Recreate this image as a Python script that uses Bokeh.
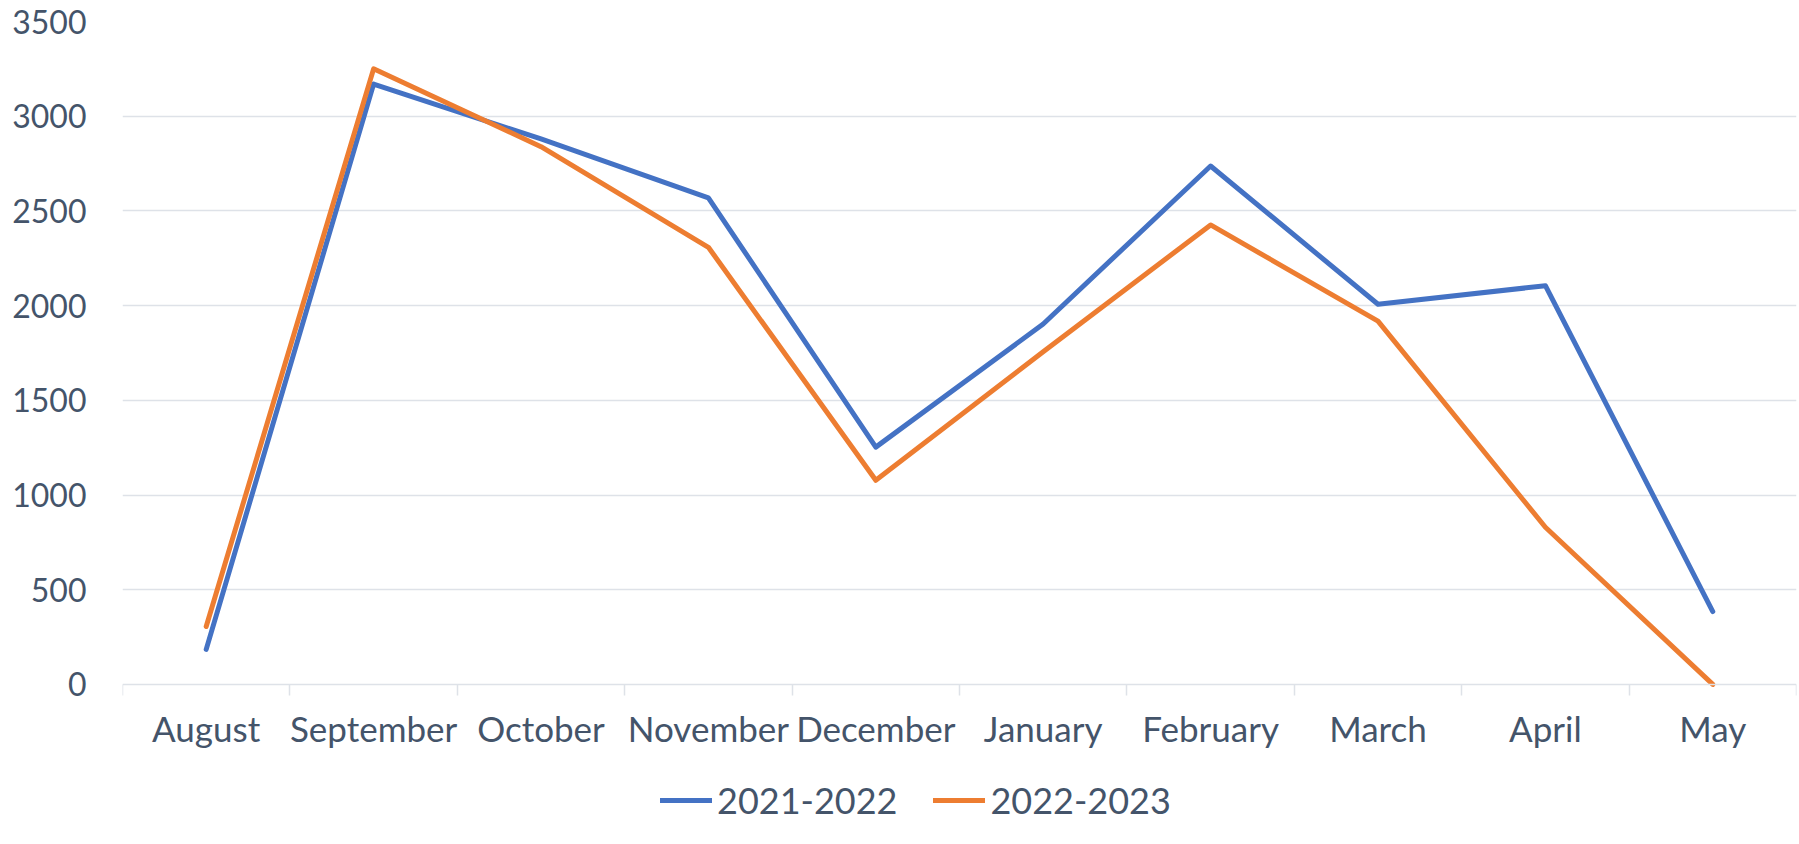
from bokeh.plotting import figure
from bokeh.models import Range1d, FixedTicker, Legend, LegendItem
from bokeh.embed import file_html
from bokeh.resources import INLINE

months = ["August", "September", "October", "November", "December",
          "January", "February", "March", "April", "May"]
series_2021_2022 = [185, 3170, 2880, 2569, 1253, 1903, 2737, 2007, 2105, 385]
series_2022_2023 = [306, 3250, 2839, 2308, 1078, 1756, 2426, 1918, 830, 0]
y_ticks = [0, 500, 1000, 1500, 2000, 2500, 3000, 3500]

TEXT = "#44546A"
GRID = "#DEE2E8"
BLUE = "#4472C4"
ORANGE = "#ED7D31"
FONT = "Lato"

x_pos = [i + 0.5 for i in range(len(months))]

# frame runs to the bottom of the figure so that axis labels and legend sit inside it
p = figure(width=1799, height=844, output_backend="svg", toolbar_location=None,
           x_range=Range1d(0, len(months)), y_range=Range1d(-845, 3500),
           min_border_left=122, min_border_right=3, min_border_top=21,
           min_border_bottom=0)
p.outline_line_color = None
p.background_fill_color = "white"
p.border_fill_color = "white"

r1 = p.line(x_pos, series_2021_2022, line_color=BLUE, line_width=5,
            line_join="round", line_cap="round")
r2 = p.line(x_pos, series_2022_2023, line_color=ORANGE, line_width=5,
            line_join="round", line_cap="round")

# x axis, fixed at y = 0
xa = p.xaxis[0]
xa.fixed_location = 0
xa.ticker = FixedTicker(ticks=x_pos, minor_ticks=list(range(len(months) + 1)))
xa.major_label_overrides = {x: m for x, m in zip(x_pos, months)}
xa.major_tick_line_color = None
xa.major_tick_out = 0
xa.major_tick_in = 0
xa.minor_tick_out = 11
xa.minor_tick_in = 0
xa.minor_tick_line_color = GRID
xa.minor_tick_line_width = 1.5
xa.axis_line_color = GRID
xa.axis_line_width = 1.5
xa.major_label_text_font = FONT
xa.major_label_text_font_size = "35px"
xa.major_label_text_color = TEXT
xa.major_label_standoff = 12

# y axis
ya = p.yaxis[0]
ya.ticker = FixedTicker(ticks=y_ticks)
ya.axis_line_color = None
ya.major_tick_line_color = None
ya.minor_tick_line_color = None
ya.major_tick_out = 0
ya.major_label_standoff = 36
ya.major_label_text_font = FONT
ya.major_label_text_font_size = "32px"
ya.major_label_text_color = TEXT

p.xgrid.grid_line_color = None
p.ygrid.grid_line_color = GRID
p.ygrid.grid_line_width = 1.5
p.ygrid.ticker = FixedTicker(ticks=y_ticks[1:])

legend = Legend(items=[LegendItem(label="2021-2022", renderers=[r1]),
                       LegendItem(label="2022-2023", renderers=[r2])],
                orientation="horizontal", location=(538, 22),
                padding=0, margin=0, spacing=36, label_standoff=5,
                glyph_width=52, glyph_height=20,
                label_text_font=FONT, label_text_font_size="36px",
                label_text_color=TEXT, border_line_color=None,
                background_fill_alpha=0)
p.add_layout(legend, "center")

open("out.html", "w").write(file_html(p, INLINE))
